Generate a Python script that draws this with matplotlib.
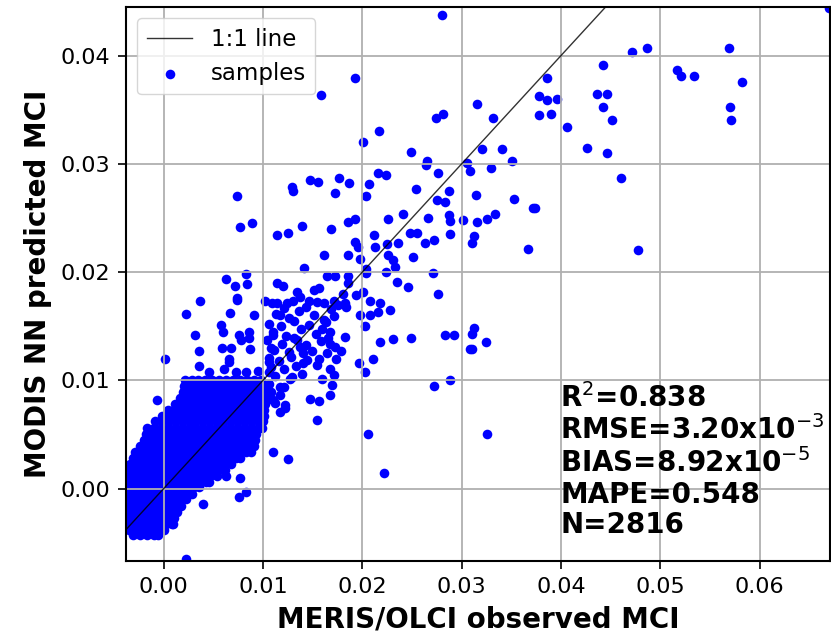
import matplotlib
matplotlib.use("Agg")
import matplotlib.pyplot as plt
from matplotlib.ticker import MultipleLocator, FormatStrFormatter

# scattered samples (observed, predicted)
obs_x = [0.0158, 0.0193, 0.0217, 0.0201, 0.0249, 0.0216, 0.0224, 0.0254, 0.0147, 0.0155,
         0.0177, 0.0187, 0.0207, 0.0129, 0.0130, 0.0172, 0.0204, 0.0074, 0.0241, 0.0226,
         0.0077, 0.0089, 0.0139, 0.0168, 0.0186, 0.0193, 0.0114, 0.0125, 0.0212, 0.0193,
         0.0196, 0.0225, 0.0236, 0.0213, 0.0161, 0.0186, 0.0198, 0.0226, 0.0231, 0.0251,
         0.0141, 0.0164, 0.0172, 0.0204, 0.0204, 0.0224, 0.0233, 0.0083, 0.0063, 0.0072,
         0.0084, 0.0114, 0.0120, 0.0186, 0.0186, 0.0235, 0.0246, 0.0074, 0.0037, 0.0022,
         0.0067, 0.0091, 0.0102, 0.0114, 0.0124, 0.0134, 0.0137, 0.0146, 0.0151, 0.0156,
         0.0181, 0.0194, 0.0201, 0.0161, 0.0171, 0.0183, 0.0208, 0.0218, 0.0228, 0.0198,
         0.0208, 0.0280, 0.0472, 0.0487, 0.0569, 0.0670, 0.0442, 0.0517, 0.0521, 0.0534,
         0.0582, 0.0386, 0.0378, 0.0386, 0.0396, 0.0436, 0.0446, 0.0442, 0.0570, 0.0571,
         0.0378, 0.0390, 0.0451, 0.0406, 0.0315, 0.0274, 0.0281, 0.0332, 0.0426, 0.0446,
         0.0461, 0.0265, 0.0264, 0.0276, 0.0305, 0.0308, 0.0321, 0.0341, 0.0351, 0.0330,
         0.0287, 0.0275, 0.0283, 0.0314, 0.0353, 0.0372, 0.0374, 0.0266, 0.0287, 0.0288,
         0.0301, 0.0315, 0.0326, 0.0334, 0.0248, 0.0255, 0.0263, 0.0272, 0.0288, 0.0312,
         0.0310, 0.0367, 0.0478, 0.0271, 0.0276, 0.0249, 0.0283, 0.0292, 0.0312, 0.0310,
         0.0325, 0.0308, 0.0310, 0.0288, 0.0272, 0.0326, 0.0154, 0.0206, 0.0110, 0.0125,
         0.0222, 0.0216, 0.0203, 0.0218, 0.0231, 0.0211, 0.0197, 0.0203, 0.0183, 0.0179,
         0.0167, 0.0171, 0.0159, 0.0169, 0.0167, 0.0147, 0.0156, 0.0122, 0.0174, 0.0164,
         0.0156, 0.0140, 0.0184, 0.0161, 0.0171, 0.0167, 0.0167, 0.0140, 0.0134, 0.0117,
         0.0129, 0.0117, 0.0074, 0.0058, 0.0060, 0.0032, 0.0076, 0.0078, 0.0086, 0.0086,
         0.0110, 0.0036, 0.0059, 0.0068, 0.0087, 0.0066, 0.0066, 0.0001, 0.0108, 0.0036,
         0.0046, 0.0061, 0.0073, 0.0083, 0.0095, 0.0106, 0.0106, -0.0007, 0.0106, 0.0110,
         0.0040, 0.0083, 0.0076, 0.0063, 0.0077, 0.0009, 0.0022, 0.0088]
pred_y = [0.0364, 0.0379, 0.0330, 0.0320, 0.0311, 0.0292, 0.0290, 0.0277, 0.0285, 0.0283,
          0.0287, 0.0282, 0.0281, 0.0279, 0.0275, 0.0273, 0.0270, 0.0270, 0.0254, 0.0249,
          0.0242, 0.0245, 0.0243, 0.0240, 0.0246, 0.0249, 0.0234, 0.0236, 0.0234, 0.0228,
          0.0223, 0.0226, 0.0227, 0.0223, 0.0216, 0.0216, 0.0212, 0.0216, 0.0211, 0.0214,
          0.0204, 0.0196, 0.0196, 0.0203, 0.0199, 0.0200, 0.0205, 0.0198, 0.0194, 0.0187,
          0.0189, 0.0190, 0.0187, 0.0196, 0.0190, 0.0191, 0.0186, 0.0176, 0.0173, 0.0161,
          0.0162, 0.0160, 0.0173, 0.0171, 0.0171, 0.0182, 0.0177, 0.0173, 0.0183, 0.0185,
          0.0180, 0.0179, 0.0182, 0.0171, 0.0173, 0.0171, 0.0173, 0.0171, 0.0165, 0.0160,
          0.0160, 0.0438, 0.0403, 0.0407, 0.0407, 0.0444, 0.0391, 0.0387, 0.0381, 0.0381,
          0.0376, 0.0379, 0.0363, 0.0359, 0.0360, 0.0365, 0.0365, 0.0353, 0.0353, 0.0341,
          0.0345, 0.0346, 0.0341, 0.0334, 0.0355, 0.0342, 0.0346, 0.0342, 0.0315, 0.0310,
          0.0287, 0.0303, 0.0299, 0.0292, 0.0301, 0.0293, 0.0314, 0.0314, 0.0303, 0.0296,
          0.0275, 0.0267, 0.0265, 0.0271, 0.0268, 0.0259, 0.0259, 0.0250, 0.0253, 0.0247,
          0.0248, 0.0246, 0.0249, 0.0254, 0.0236, 0.0236, 0.0227, 0.0230, 0.0235, 0.0233,
          0.0227, 0.0221, 0.0220, 0.0199, 0.0180, 0.0139, 0.0142, 0.0142, 0.0148, 0.0143,
          0.0135, 0.0129, 0.0129, 0.0100, 0.0095, 0.0050, 0.0063, 0.0050, 0.0034, 0.0027,
          0.0014, 0.0163, 0.0150, 0.0135, 0.0138, 0.0120, 0.0116, 0.0108, 0.0140, 0.0127,
          0.0110, 0.0105, 0.0101, 0.0096, 0.0086, 0.0083, 0.0081, 0.0074, 0.0120, 0.0125,
          0.0120, 0.0116, 0.0168, 0.0156, 0.0159, 0.0145, 0.0134, 0.0125, 0.0137, 0.0160,
          0.0103, 0.0094, 0.0174, 0.0151, 0.0145, 0.0142, 0.0142, 0.0137, 0.0145, 0.0139,
          0.0142, 0.0127, 0.0130, 0.0130, 0.0129, 0.0120, 0.0117, 0.0120, 0.0130, 0.0113,
          0.0108, 0.0110, 0.0108, 0.0108, 0.0109, 0.0117, 0.0108, 0.0082, 0.0088, 0.0082,
          -0.0014, -0.0003, -0.0008, 0.0012, 0.0010, -0.0033, -0.0065, 0.0034]

# semi-dense cloud just right of the core
band_x = [0.0109, 0.0121, 0.0130, 0.0143, 0.0154, 0.0168, 0.0176, 0.0113, 0.0126, 0.0136,
          0.0151, 0.0163, 0.0106, 0.0118, 0.0131, 0.0146, 0.0159, 0.0110, 0.0123, 0.0138,
          0.0153, 0.0165, 0.0104, 0.0119, 0.0131, 0.0143, 0.0158, 0.0111, 0.0126, 0.0137,
          0.0149, 0.0173, 0.0106, 0.0116, 0.0128, 0.0144, 0.0154, 0.0108, 0.0121, 0.0133,
          0.0112, 0.0127, 0.0139, 0.0106, 0.0121, 0.0108, 0.0117, 0.0112, 0.0122, 0.0117]
band_y = [0.0171, 0.0167, 0.0173, 0.0168, 0.0172, 0.0166, 0.0170, 0.0161, 0.0158, 0.0164,
          0.0160, 0.0154, 0.0152, 0.0150, 0.0155, 0.0151, 0.0147, 0.0145, 0.0141, 0.0147,
          0.0143, 0.0139, 0.0137, 0.0134, 0.0139, 0.0133, 0.0136, 0.0128, 0.0126, 0.0131,
          0.0127, 0.0131, 0.0121, 0.0118, 0.0122, 0.0119, 0.0114, 0.0112, 0.0110, 0.0113,
          0.0104, 0.0101, 0.0106, 0.0097, 0.0094, 0.0089, 0.0086, 0.0079, 0.0077, 0.0071]

# dense core near the origin (one predicted value per row)
core_y = [0.0100, 0.0095, 0.0089, 0.0084, 0.0078, 0.0073, 0.0067, 0.0062, 0.0056,
          0.0050, 0.0045, 0.0039, 0.0034, 0.0028, 0.0023, 0.0017, 0.0012, 0.0006,
          0.0001, -0.0005, -0.0010, -0.0016, -0.0022, -0.0027, -0.0033, -0.0038, -0.0043]
core_x = [
    [0.0021, 0.0028, 0.0035, 0.0042, 0.0049, 0.0056, 0.0063, 0.0070, 0.0077, 0.0084, 0.0091, 0.0098],
    [0.0020, 0.0025, 0.0032, 0.0039, 0.0046, 0.0053, 0.0060, 0.0067, 0.0074, 0.0081, 0.0088, 0.0095, 0.0102],
    [0.0019, 0.0026, 0.0033, 0.0040, 0.0047, 0.0054, 0.0061, 0.0068, 0.0075, 0.0082, 0.0089, 0.0096, 0.0104],
    [0.0016, 0.0022, 0.0029, 0.0036, 0.0043, 0.0050, 0.0057, 0.0064, 0.0071, 0.0078, 0.0085, 0.0092, 0.0099, 0.0105],
    [0.0011, 0.0018, 0.0025, 0.0032, 0.0039, 0.0046, 0.0053, 0.0060, 0.0067, 0.0074, 0.0081, 0.0088, 0.0095, 0.0102],
    [0.0004, 0.0010, 0.0017, 0.0024, 0.0031, 0.0038, 0.0045, 0.0052, 0.0059, 0.0066, 0.0073, 0.0080, 0.0087, 0.0094, 0.0101],
    [-0.0002, 0.0005, 0.0012, 0.0019, 0.0026, 0.0033, 0.0040, 0.0047, 0.0054, 0.0061, 0.0068, 0.0075, 0.0082, 0.0089, 0.0096, 0.0101],
    [-0.0009, -0.0002, 0.0005, 0.0012, 0.0019, 0.0026, 0.0033, 0.0040, 0.0047, 0.0054, 0.0061, 0.0068, 0.0075, 0.0082, 0.0089, 0.0096, 0.0100],
    [-0.0017, -0.0010, -0.0003, 0.0004, 0.0011, 0.0018, 0.0025, 0.0032, 0.0039, 0.0046, 0.0053, 0.0060, 0.0067, 0.0074, 0.0081, 0.0088, 0.0095, 0.0099],
    [-0.0018, -0.0012, -0.0005, 0.0002, 0.0009, 0.0016, 0.0023, 0.0030, 0.0037, 0.0044, 0.0051, 0.0058, 0.0065, 0.0072, 0.0079, 0.0086, 0.0093],
    [-0.0020, -0.0013, -0.0006, 0.0001, 0.0008, 0.0015, 0.0022, 0.0029, 0.0036, 0.0043, 0.0050, 0.0057, 0.0064, 0.0071, 0.0078, 0.0085, 0.0092],
    [-0.0024, -0.0017, -0.0010, -0.0003, 0.0004, 0.0011, 0.0018, 0.0025, 0.0032, 0.0039, 0.0046, 0.0053, 0.0060, 0.0067, 0.0074, 0.0081, 0.0088, 0.0091],
    [-0.0029, -0.0022, -0.0015, -0.0008, -0.0001, 0.0006, 0.0013, 0.0020, 0.0027, 0.0034, 0.0041, 0.0048, 0.0055, 0.0062, 0.0069, 0.0076, 0.0083],
    [-0.0031, -0.0025, -0.0018, -0.0011, -0.0004, 0.0003, 0.0010, 0.0017, 0.0024, 0.0031, 0.0038, 0.0045, 0.0052, 0.0059, 0.0066, 0.0073, 0.0077],
    [-0.0034, -0.0028, -0.0021, -0.0014, -0.0007, 0.0000, 0.0007, 0.0014, 0.0021, 0.0028, 0.0035, 0.0042, 0.0049, 0.0056, 0.0063, 0.0068],
    [-0.0036, -0.0031, -0.0024, -0.0017, -0.0010, -0.0003, 0.0004, 0.0011, 0.0018, 0.0025, 0.0032, 0.0039, 0.0046, 0.0053, 0.0060, 0.0062],
    [-0.0037, -0.0030, -0.0023, -0.0016, -0.0009, -0.0002, 0.0005, 0.0012, 0.0019, 0.0026, 0.0033, 0.0040, 0.0047, 0.0054],
    [-0.0038, -0.0034, -0.0027, -0.0020, -0.0013, -0.0006, 0.0001, 0.0008, 0.0015, 0.0022, 0.0029, 0.0036, 0.0043, 0.0046],
    [-0.0039, -0.0032, -0.0025, -0.0018, -0.0011, -0.0004, 0.0003, 0.0010, 0.0017, 0.0024, 0.0031, 0.0036],
    [-0.0040, -0.0035, -0.0028, -0.0021, -0.0014, -0.0007, 0.0000, 0.0007, 0.0014, 0.0021, 0.0028],
    [-0.0040, -0.0033, -0.0026, -0.0019, -0.0012, -0.0005, 0.0002, 0.0009, 0.0016, 0.0022],
    [-0.0040, -0.0036, -0.0029, -0.0022, -0.0015, -0.0008, -0.0001, 0.0006, 0.0013, 0.0017],
    [-0.0040, -0.0033, -0.0026, -0.0019, -0.0012, -0.0005, 0.0002, 0.0009, 0.0013],
    [-0.0040, -0.0036, -0.0029, -0.0022, -0.0015, -0.0008, -0.0001, 0.0006, 0.0010],
    [-0.0038, -0.0033, -0.0026, -0.0019, -0.0012, -0.0005, 0.0002, 0.0008],
    [-0.0035, -0.0028, -0.0021, -0.0014, -0.0007, 0.0000],
    [-0.0031, -0.0024, -0.0017, -0.0010, -0.0006]]

one_to_one = [-0.01, 0.07]
stats_lines = ["R$^2$=0.838", "RMSE=3.20x10$^{-3}$", "BIAS=8.92x10$^{-5}$",
               "MAPE=0.548", "N=2816"]

# flatten into point lists
xs = obs_x + band_x
ys = pred_y + band_y
for yv, row in zip(core_y, core_x):
    xs += row
    ys += [yv] * len(row)

fig = plt.figure(figsize=(8.31, 6.35), dpi=100)
ax = fig.add_axes([0.1516, 0.1165, 0.8472, 0.8725])

ax.plot(one_to_one, one_to_one, color="k", lw=1.0, alpha=0.8, zorder=3, label="1:1 line")
ax.scatter(xs, ys, s=48, c="b", linewidths=0, label="samples")

ax.set_xlim(-0.0038, 0.0671)
ax.set_ylim(-0.0067, 0.0445)
ax.xaxis.set_major_locator(MultipleLocator(0.01))
ax.yaxis.set_major_locator(MultipleLocator(0.01))
ax.xaxis.set_major_formatter(FormatStrFormatter("%.2f"))
ax.yaxis.set_major_formatter(FormatStrFormatter("%.2f"))
ax.tick_params(labelsize=16, length=5.5, width=1.2, pad=6)
ax.grid(True, color="#b0b0b0", lw=1.3)
for sp in ax.spines.values():
    sp.set_linewidth(1.5)

ax.set_xlabel("MERIS/OLCI observed MCI", fontsize=20, fontweight="bold", labelpad=6)
ax.set_ylabel("MODIS NN predicted MCI", fontsize=20, fontweight="bold", labelpad=6)

ax.legend(loc="upper left", fontsize=16.5)
ax.text(0.6165, 0.322, "\n".join(stats_lines), transform=ax.transAxes,
        fontsize=20, fontweight="bold", va="top", ha="left", linespacing=1.12)

fig.savefig("out.png", dpi=100)
